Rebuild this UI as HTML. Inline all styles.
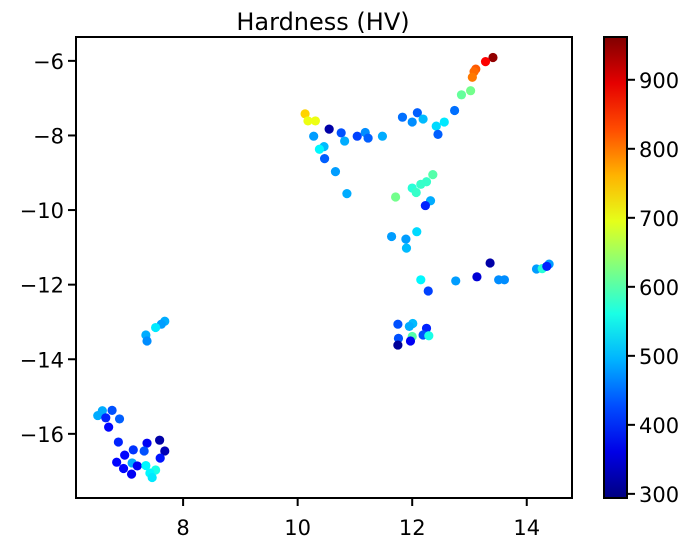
<!DOCTYPE html>
<html><head><meta charset="utf-8"><style>
body{margin:0;background:#fff;}
svg text{font-family:"DejaVu Sans","Liberation Sans",sans-serif;fill:#000;}
</style></head><body>
<svg id="chart" width="696" height="549"></svg>
<script>
const xs=[13.41,13.28,13.11,13.08,13.05,13.02,12.86,12.74,12.56,12.42,12.45,12.09,11.83,12.00,12.19,10.13,10.18,10.31,10.55,10.76,10.28,10.82,11.04,11.18,11.23,11.48,10.46,10.38,10.47,10.66,10.86,11.71,12.36,12.25,12.15,12.00,12.07,12.32,12.23,11.64,11.89,12.08,11.90,12.15,12.76,12.28,13.36,13.13,13.51,13.61,14.17,14.27,14.39,14.35,11.75,12.01,11.95,12.25,12.19,12.00,12.29,11.76,11.97,11.75,7.68,7.62,7.52,7.35,7.37,6.59,6.51,6.76,6.65,6.89,6.70,6.87,7.59,7.37,7.68,7.13,7.32,6.98,7.60,6.84,7.11,7.20,7.35,6.96,7.52,7.42,7.10,7.46];
const ys=[-5.91,-6.02,-6.22,-6.29,-6.44,-6.80,-6.91,-7.33,-7.64,-7.75,-7.97,-7.39,-7.51,-7.64,-7.56,-7.42,-7.61,-7.61,-7.83,-7.93,-8.02,-8.15,-8.02,-7.92,-8.07,-8.02,-8.30,-8.37,-8.62,-8.97,-9.56,-9.65,-9.05,-9.24,-9.31,-9.41,-9.53,-9.75,-9.88,-10.71,-10.78,-10.58,-11.02,-11.87,-11.90,-12.17,-11.42,-11.79,-11.87,-11.87,-11.58,-11.57,-11.45,-11.51,-13.06,-13.04,-13.12,-13.17,-13.35,-13.39,-13.37,-13.44,-13.51,-13.62,-12.98,-13.06,-13.15,-13.35,-13.51,-15.38,-15.51,-15.37,-15.57,-15.60,-15.82,-16.22,-16.17,-16.25,-16.46,-16.43,-16.46,-16.57,-16.65,-16.76,-16.78,-16.86,-16.85,-16.93,-16.97,-17.05,-17.08,-17.17];
const hv=[950,880,820,810,800,620,610,450,530,520,440,440,450,470,500,740,700,700,320,430,480,490,420,470,440,490,500,540,440,480,490,620,600,580,580,570,580,490,400,480,480,520,500,540,480,420,320,350,470,470,480,570,480,400,430,500,490,400,430,600,560,430,370,310,490,480,530,490,470,490,490,430,400,440,380,400,320,370,330,410,430,380,390,380,490,370,540,380,560,540,370,530];
const xTicks=[8,10,12,14];
const yTicks=[-6,-8,-10,-12,-14,-16];
const cTicks=[300,400,500,600,700,800,900];
const X0=76,X1=572,Y0=37,Y1=498,xMin=6.13,xMax=14.79,yMin=-17.72,yMax=-5.36,cMin=294,cMax=962;
const sx=v=>X0+(v-xMin)/(xMax-xMin)*(X1-X0);
const sy=v=>Y1-(v-yMin)/(yMax-yMin)*(Y1-Y0);
const sc=v=>498-(v-cMin)/(cMax-cMin)*461;
function jet(t){t=Math.max(0,Math.min(1,t));
 const f=x=>Math.max(0,Math.min(1,x));
 const r=f(Math.min(4*t-1.5,-4*t+4.5)),g=f(Math.min(4*t-0.5,-4*t+3.5)),b=f(Math.min(4*t+0.5,-4*t+2.5));
 return `rgb(${Math.round(r*255)},${Math.round(g*255)},${Math.round(b*255)})`;}
const NS="http://www.w3.org/2000/svg",svg=document.getElementById('chart');
function mk(tag,a,p){const e=document.createElementNS(NS,tag);for(const k in a)e.setAttribute(k,a[k]);(p||svg).appendChild(e);return e;}
const t=mk('text',{x:323,y:30,'text-anchor':'middle','font-size':24});t.textContent='Hardness (HV)';


const pts=mk('g',{});


for(let i=0;i<xs.length;i++){
 const c=mk('circle',{cx:sx(xs[i]),cy:sy(ys[i]),r:4.6,fill:jet((hv[i]-cMin)/(cMax-cMin))},pts);
 
 
}
const fr=mk('rect',{x:X0,y:Y0,width:X1-X0,height:Y1-Y0,fill:'none',stroke:'#000','stroke-width':2});


xTicks.forEach(v=>{const x=sx(v);mk('line',{x1:x,x2:x,y1:Y1,y2:Y1+8,stroke:'#000','stroke-width':2});
 const l=mk('text',{x:x,y:Y1+37,'text-anchor':'middle','font-size':21});l.textContent=v;
 
 });
yTicks.forEach(v=>{const y=sy(v);mk('line',{x1:X0-8,x2:X0,y1:y,y2:y,stroke:'#000','stroke-width':2});
 const l=mk('text',{x:X0-12,y:y+8,'text-anchor':'end','font-size':21});l.textContent='\u2212'+Math.abs(v);
 
 });
const defs=mk('defs',{});const lg=mk('linearGradient',{id:'jg',x1:0,y1:1,x2:0,y2:0},defs);
for(let i=0;i<=10;i++)mk('stop',{offset:i/10,'stop-color':jet(i/10)},lg);
const cb=mk('rect',{x:604,y:37,width:23,height:461,fill:'url(#jg)',stroke:'#000','stroke-width':2});


cTicks.forEach(v=>{const y=sc(v);mk('line',{x1:627,x2:635,y1:y,y2:y,stroke:'#000','stroke-width':2});
 const l=mk('text',{x:639,y:y+8,'font-size':21});l.textContent=v;
 
 });
</script>
</body></html>
